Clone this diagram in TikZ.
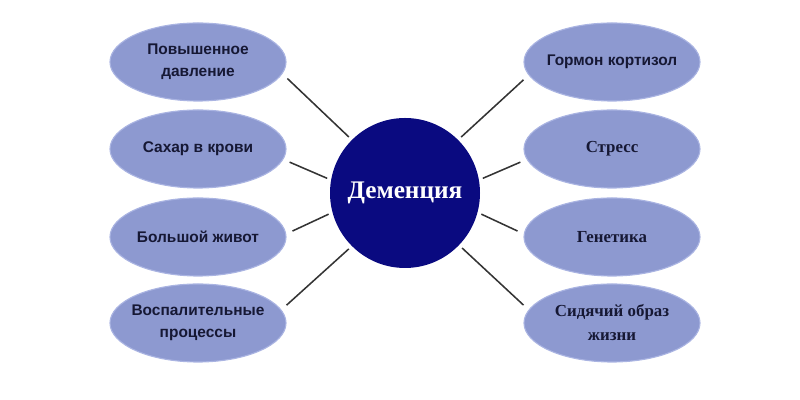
\documentclass[tikz,border=0pt]{standalone}
\usepackage{fontspec}
\setmainfont{Liberation Serif}
\newfontfamily\sansfnt{Liberation Sans}
\usetikzlibrary{shapes.geometric}

\definecolor{ovalfill}{RGB}{141,153,208}
\definecolor{ovaledge}{RGB}{170,180,226}
\definecolor{darknavy}{RGB}{10,10,128}
\definecolor{ovaltext}{RGB}{22,24,52}
\definecolor{linegray}{RGB}{52,52,52}

\begin{document}
\begin{tikzpicture}[
  oval/.style={ellipse, fill=ovalfill, draw=ovaledge, line width=0.8pt,
    minimum width=4.4cm, minimum height=1.95cm, inner xsep=-6pt, inner ysep=0pt,
    align=center, text=ovaltext},
  sansoval/.style={oval, font=\sansfnt\bfseries\fontsize{11}{15.5}\selectfont},
  serifoval/.style={oval, font=\bfseries\fontsize{12}{17}\selectfont},
  link/.style={draw=linegray, line width=1.1pt, shorten <=0.17cm, shorten >=0.1cm}
]
\useasboundingbox (0,0) rectangle (20,10);

% Центральный круг
\node[circle, fill=darknavy, minimum size=3.75cm, inner sep=0pt, text=white,
  font=\bfseries\fontsize{18}{20}\selectfont] (dem) at (10.125,5.175) {Деменция};

% Левые овалы
\node[sansoval] (davl) at (4.95,8.45) {Повышенное\\давление};
\node[sansoval] (sahar) at (4.95,6.275) {Сахар в крови};
\node[sansoval] (zhivot) at (4.95,4.075) {Большой живот};
\node[sansoval] (vospal) at (4.95,1.925) {Воспалительные\\процессы};

% Правые овалы
\node[sansoval] (kortizol) at (15.3,8.45) {Гормон кортизол};
\node[serifoval] (stress) at (15.3,6.275) {Стресс};
\node[serifoval] (genet) at (15.3,4.075) {Генетика};
\node[serifoval] (sidyach) at (15.3,1.925) {Сидячий образ\\жизни};

% Линии к центру
\draw[link] (davl.-8) -- (dem.135);
\draw[link] (sahar.-7) -- (dem.170);
\draw[link] (zhivot.2) -- (dem.195);
\draw[link] (vospal.9) -- (dem.225);
\draw[link] (kortizol.189) -- (dem.45);
\draw[link] (stress.187) -- (dem.10);
\draw[link] (genet.178) -- (dem.-15);
\draw[link] (sidyach.171) -- (dem.-44);

\end{tikzpicture}
\end{document}
